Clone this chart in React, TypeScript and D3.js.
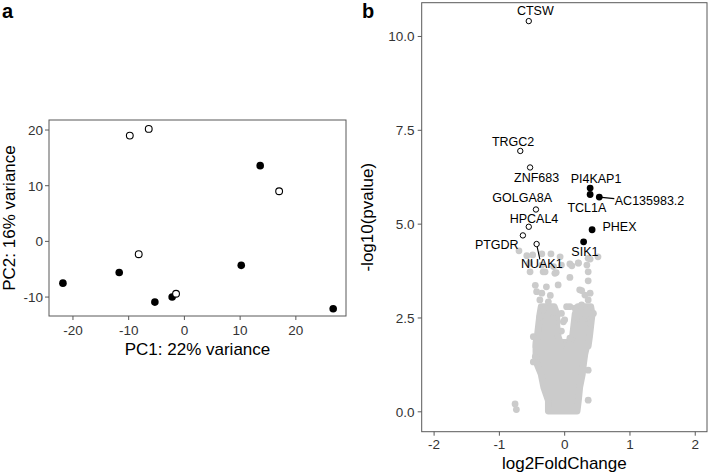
import React from "react";
import * as d3 from "d3";

// ---------- Panel a: PCA ----------
const pcaPC1 = [-21.8, -11.7, -8.2, -9.8, -6.4, 13.6, 17.0, 10.2, -5.3, -2.2, -1.5, 26.7];
const pcaPC2 = [-7.5, -5.6, -2.3, 19.0, 20.2, 13.6, 9.0, -4.3, -10.9, -10.0, -9.4, -12.1];
const pcaFilled = [true, true, false, false, false, true, false, true, true, true, false, true];
const pcaXTicks = [-20, -10, 0, 10, 20];
const pcaYTicks = [-10, 0, 10, 20];

// ---------- Panel b: volcano ----------
const geneNames = ["CTSW", "TRGC2", "ZNF683", "GOLGA8A", "HPCAL4", "PTGDR", "NUAK1", "PI4KAP1", "TCL1A", "AC135983.2", "PHEX", "SIK1"];
const geneLfc = [-0.55, -0.68, -0.53, -0.44, -0.55, -0.64, -0.43, 0.39, 0.39, 0.53, 0.42, 0.29];
const geneP = [10.41, 6.95, 6.51, 5.39, 4.93, 4.70, 4.47, 5.96, 5.79, 5.72, 4.85, 4.53];
const geneUp = [false, false, false, false, false, false, false, true, true, true, true, true];
// label anchor (text centre, baseline) in data units
const labelLfc = [-0.45, -0.79, -0.43, -0.65, -0.47, -1.04, -0.35, 0.48, 0.34, 1.30, 0.84, 0.31];
const labelP = [10.56, 7.09, 6.13, 5.59, 5.02, 4.34, 3.84, 6.09, 5.33, 5.50, 4.83, 4.15];
const segmentGenes = ["NUAK1", "AC135983.2"];
const segEndLfc = [-0.38, 0.76];
const segEndP = [4.06, 5.68];

const grayLfc = [-0.70, -0.58, -0.49, -0.35, -0.21, -0.07, -0.54, -0.35, -0.17, -0.05, 0.08, 0.21, 0.34, 0.39, 0.51,
  -0.53, -0.33, -0.13, 0.36, 0.08, 0.36, -0.45, -0.28, -0.10, -0.43, -0.35, -0.22, 0.23, 0.39, 0.31,
  -0.38, -0.25, 0.36, 0.26, 0.16, 0.08, 0.34, -0.33, -0.20, 0.44, -0.38, -0.17, 0.00, 0.18, 0.28,
  0.39, -0.02, -0.17, -0.05, -0.48, 0.08, -0.45, -0.48, 0.36, 0.36, -0.76, -0.74, 0.26,
  -0.30, -0.15, 0.11, 0.21, 0.36, 0.03, -0.05];
const grayP = [4.29, 4.16, 4.18, 4.21, 4.21, 4.13, 3.96, 3.91, 3.87, 3.91, 3.94, 3.96, 3.91, 4.07, 4.13,
  3.73, 3.73, 3.71, 3.73, 3.58, 3.49, 3.37, 3.33, 3.38, 3.20, 3.16, 3.10, 3.25, 3.16, 3.11,
  2.98, 2.93, 2.98, 2.85, 2.76, 2.80, 2.71, 2.71, 2.67, 2.62, 2.53, 2.49, 2.45, 2.53, 2.45,
  2.36, 2.40, 2.27, 2.15, 2.00, 1.96, 1.47, 1.33, 1.11, 0.31, 0.21, 0.06, 3.23,
  3.73, 3.69, 3.89, 3.97, 4.09, 2.80, 2.62];

// dense core of the gray cloud (envelope of dot centres)
const coreP = [0.02, 0.3, 0.65, 1.0, 1.3, 1.55, 1.85];
const coreLeft = [-0.25, -0.25, -0.32, -0.36, -0.43, -0.44, -0.44];
const coreRight = [0.19, 0.21, 0.23, 0.27, 0.29, 0.31, 0.35];
const leftArmP = [1.75, 2.0, 2.3, 2.6, 2.8];
const leftArmL = [-0.44, -0.42, -0.40, -0.38, -0.36];
const leftArmR = [-0.05, -0.10, -0.12, -0.12, -0.16];
const rightArmP = [1.75, 2.0, 2.3, 2.6, 2.8];
const rightArmL = [0.05, 0.12, 0.14, 0.16, 0.20];
const rightArmR = [0.36, 0.38, 0.40, 0.42, 0.40];

const volXTicks = [-2, -1, 0, 1, 2];
const volYTicks = [0, 2.5, 5, 7.5, 10];

const FONT = "'Liberation Sans', Arial, Helvetica, sans-serif";
const GRAY = "#cbcbcb";
const FRAME = "#595959";
const TICK_TEXT = "#333333";

export default function App() {
  // panel a scales
  const ax = d3.scaleLinear().domain([-24.3, 29.0]).range([49, 346]);
  const ay = d3.scaleLinear().domain([-13.4, 21.8]).range([316, 120]);
  // panel b scales
  const bx = d3.scaleLinear().domain([-2.19, 2.18]).range([421.7, 707]);
  const by = d3.scaleLinear().domain([-0.53, 10.9]).range([431.7, 2.7]);

  const makeArea = (ps: number[], l: number[], r: number[]) => {
    const rows = ps.map((p, i) => ({ p, l: l[i], r: r[i] }));
    return d3
      .area<{ p: number; l: number; r: number }>()
      .y((d) => by(d.p))
      .x0((d) => bx(d.l))
      .x1((d) => bx(d.r))(rows) as string;
  };

  const fmt = d3.format(".1f");

  return (
    <svg
      width={709}
      height={474}
      style={{ position: "absolute", left: 0, top: 0, background: "#fff" }}
      fontFamily={FONT}
    >
      <rect x={0} y={0} width={709} height={474} fill="#fff" />
      {/* ---------- Panel a ---------- */}
      <text x={2} y={18} fontSize={20} fontWeight="bold" fill="#000">a</text>
      <rect x={ax.range()[0]} y={ay.range()[1]} width={ax.range()[1] - ax.range()[0]} height={ay.range()[0] - ay.range()[1]} fill="none" stroke={FRAME} strokeWidth={1} />
      {pcaXTicks.map((t) => (
        <g key={"ax" + t}>
          <line x1={ax(t)} x2={ax(t)} y1={316} y2={320} stroke={FRAME} />
          <text x={ax(t)} y={335} textAnchor="middle" fontSize={13.5} fill={TICK_TEXT}>{t}</text>
        </g>
      ))}
      {pcaYTicks.map((t) => (
        <g key={"ay" + t}>
          <line x1={45} x2={49} y1={ay(t)} y2={ay(t)} stroke={FRAME} />
          <text x={43} y={ay(t)} dy="0.36em" textAnchor="end" fontSize={13.5} fill={TICK_TEXT}>{t}</text>
        </g>
      ))}
      <text x={(ax.range()[0] + ax.range()[1]) / 2} y={355} textAnchor="middle" fontSize={17} fill="#000">PC1: 22% variance</text>
      <text transform={`translate(14.5,${(ay.range()[0] + ay.range()[1]) / 2}) rotate(-90)`} textAnchor="middle" fontSize={17} fill="#000">PC2: 16% variance</text>
      {pcaPC1.map((v, i) => (
        <circle key={"pc" + i} cx={ax(v)} cy={ay(pcaPC2[i])} r={pcaFilled[i] ? 3.8 : 3.4}
          fill={pcaFilled[i] ? "#000" : "#fff"} stroke="#000" strokeWidth={pcaFilled[i] ? 0 : 1.1} />
      ))}

      {/* ---------- Panel b ---------- */}
      <text x={362} y={18} fontSize={20} fontWeight="bold" fill="#000">b</text>
      <rect x={bx.range()[0]} y={by.range()[1]} width={bx.range()[1] - bx.range()[0]} height={by.range()[0] - by.range()[1]} fill="none" stroke={FRAME} strokeWidth={1} />
      {volXTicks.map((t) => (
        <g key={"bx" + t}>
          <line x1={bx(t)} x2={bx(t)} y1={431.7} y2={435.7} stroke={FRAME} />
          <text x={bx(t)} y={448.5} textAnchor="middle" fontSize={13.5} fill={TICK_TEXT}>{t}</text>
        </g>
      ))}
      {volYTicks.map((t) => (
        <g key={"by" + t}>
          <line x1={417.7} x2={421.7} y1={by(t)} y2={by(t)} stroke={FRAME} />
          <text x={414.5} y={by(t)} dy="0.36em" textAnchor="end" fontSize={13.5} fill={TICK_TEXT}>{fmt(t)}</text>
        </g>
      ))}
      <text x={(bx.range()[0] + bx.range()[1]) / 2} y={469} textAnchor="middle" fontSize={17} fill="#000">log2FoldChange</text>
      <text transform={`translate(373,${(by.range()[0] + by.range()[1]) / 2}) rotate(-90)`} textAnchor="middle" fontSize={17} fill="#000">-log10(pvalue)</text>

      {/* gray cloud */}
      {[makeArea(coreP, coreLeft, coreRight), makeArea(leftArmP, leftArmL, leftArmR), makeArea(rightArmP, rightArmL, rightArmR)].map((d, i) => (
        <path key={"core" + i} d={d} fill={GRAY} stroke={GRAY} strokeWidth={6.8} strokeLinejoin="round" />
      ))}
      {grayLfc.map((v, i) => (
        <circle key={"g" + i} cx={bx(v)} cy={by(grayP[i])} r={3.4} fill={GRAY} />
      ))}

      {/* segments */}
      {segmentGenes.map((g, i) => {
        const k = geneNames.indexOf(g);
        return (
          <line key={"seg" + g} x1={bx(geneLfc[k])} y1={by(geneP[k])} x2={bx(segEndLfc[i])} y2={by(segEndP[i])} stroke="#000" strokeWidth={1.1} />
        );
      })}
      {/* labelled genes */}
      {geneNames.map((g, i) => (
        <circle key={"gp" + g} cx={bx(geneLfc[i])} cy={by(geneP[i])} r={geneUp[i] ? 3.4 : 2.7}
          fill={geneUp[i] ? "#000" : "#fff"} stroke="#000" strokeWidth={geneUp[i] ? 0 : 1} />
      ))}
      {geneNames.map((g, i) => (
        <text key={"gl" + g} x={bx(labelLfc[i])} y={by(labelP[i])} textAnchor="middle" fontSize={12.5} fill="#000">{g}</text>
      ))}
    </svg>
  );
}
